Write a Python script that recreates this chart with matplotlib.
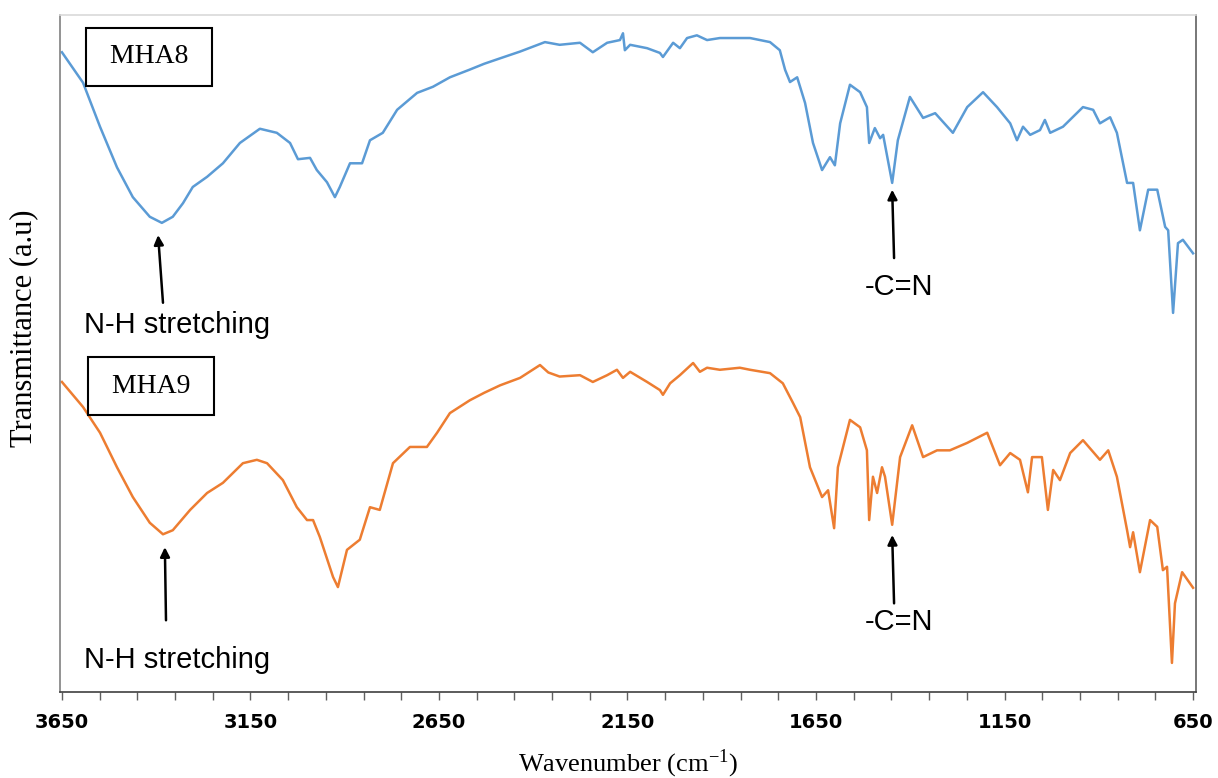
import numpy as np
import matplotlib.pyplot as plt
from matplotlib.ticker import FixedLocator

plt.rcParams['mathtext.fontset'] = 'stix'

# wavenumber (cm-1) and transmittance (a.u.)
wn_mha8 = [3650, 3594, 3549, 3504, 3462, 3417, 3385, 3356, 3329, 3303, 3265, 3223,
           3178, 3125, 3080, 3045, 3024, 2992, 2974, 2947, 2926, 2913, 2886, 2854,
           2833, 2799, 2761, 2708, 2666, 2621, 2570, 2530, 2488, 2435, 2369, 2330,
           2276, 2242, 2204, 2170, 2162, 2157, 2143, 2098, 2064, 2056, 2029, 2011,
           1992, 1966, 1939, 1905, 1852, 1825, 1772, 1746, 1732, 1719, 1700, 1679,
           1658, 1634, 1613, 1600, 1586, 1560, 1533, 1515, 1509, 1494, 1480, 1472,
           1448, 1433, 1401, 1366, 1334, 1287, 1249, 1207, 1170, 1135, 1117, 1101,
           1082, 1056, 1043, 1029, 995, 942, 915, 897, 870, 852, 825, 809,
           791, 769, 745, 724, 716, 703, 690, 677, 650]
t_mha8 = [94.5, 90.0, 83.5, 77.5, 73.1, 70.2, 69.3, 70.2, 72.2, 74.6, 76.1, 78.1,
          81.1, 83.2, 82.6, 81.1, 78.7, 78.9, 77.1, 75.3, 73.1, 74.6, 78.1, 78.1,
          81.5, 82.6, 86.0, 88.5, 89.4, 90.8, 91.9, 92.8, 93.6, 94.6, 96.0, 95.6,
          95.9, 94.5, 95.9, 96.3, 97.3, 94.8, 95.6, 95.1, 94.4, 93.8, 95.9, 95.1,
          96.6, 97.0, 96.3, 96.6, 96.6, 96.6, 96.0, 94.8, 91.9, 90.1, 90.8, 87.0,
          81.1, 77.1, 79.0, 77.8, 84.0, 89.7, 88.6, 86.4, 81.1, 83.3, 81.8, 82.3,
          75.2, 81.5, 87.9, 84.8, 85.5, 82.6, 86.4, 88.6, 86.4, 84.0, 81.5, 83.5,
          82.3, 83.0, 84.5, 82.6, 83.5, 86.4, 86.0, 84.0, 84.9, 82.6, 75.2, 75.2,
          68.2, 74.2, 74.2, 68.7, 68.2, 56.0, 66.3, 66.8, 64.8]

wn_mha9 = [3650, 3594, 3549, 3504, 3462, 3417, 3382, 3356, 3310, 3265, 3223, 3170,
           3133, 3106, 3064, 3027, 3000, 2984, 2966, 2931, 2918, 2894, 2860, 2833,
           2807, 2772, 2727, 2682, 2655, 2621, 2568, 2530, 2488, 2435, 2382, 2360,
           2330, 2276, 2242, 2204, 2178, 2162, 2143, 2098, 2064, 2056, 2037, 2011,
           1976, 1958, 1939, 1905, 1852, 1825, 1772, 1738, 1711, 1692, 1666, 1634,
           1618, 1602, 1592, 1560, 1533, 1515, 1509, 1499, 1488, 1475, 1467, 1448,
           1427, 1395, 1366, 1329, 1295, 1249, 1196, 1162, 1135, 1109, 1088, 1077,
           1051, 1035, 1021, 1003, 976, 942, 897, 875, 852, 825, 817, 809,
           791, 764, 745, 730, 719, 706, 698, 679, 650]
t_mha9 = [45.8, 42.1, 38.3, 33.2, 28.8, 25.0, 23.3, 23.9, 26.9, 29.4, 30.9, 33.8,
          34.3, 33.8, 31.3, 27.3, 25.4, 25.4, 22.9, 17.0, 15.5, 21.0, 22.5, 27.3,
          26.9, 33.8, 36.2, 36.2, 38.3, 41.2, 43.1, 44.2, 45.3, 46.4, 48.3, 47.2,
          46.6, 46.8, 45.8, 46.8, 47.6, 46.4, 47.3, 45.8, 44.6, 43.9, 45.6, 46.8,
          48.6, 47.3, 47.9, 47.6, 47.9, 47.6, 47.1, 45.6, 42.7, 40.6, 33.2, 28.8,
          29.8, 24.2, 33.2, 40.2, 39.1, 35.7, 25.4, 31.8, 29.4, 33.2, 31.8, 24.7,
          34.7, 39.4, 34.7, 35.7, 35.7, 36.8, 38.3, 33.5, 35.3, 34.3, 29.5, 34.7,
          34.7, 26.9, 32.8, 31.3, 35.3, 37.2, 34.3, 35.7, 31.8, 23.9, 21.4, 23.6,
          17.7, 25.4, 24.4, 18.0, 18.5, 4.3, 13.1, 17.7, 15.4]

blue = '#5B9BD5'
orange = '#ED7D31'
serif = 'Liberation Serif'
sans = 'Liberation Sans'

fig = plt.figure(figsize=(12.18, 7.78), dpi=100)
ax = fig.add_axes([0.0493, 0.1105, 0.9327, 0.8702])

ax.plot(wn_mha8, t_mha8, color=blue, lw=1.8)
ax.plot(wn_mha9, t_mha9, color=orange, lw=1.8)

ax.set_xlim(3655, 642)
ax.set_ylim(0, 100)
ax.xaxis.set_major_locator(FixedLocator([3650, 3150, 2650, 2150, 1650, 1150, 650]))
ax.xaxis.set_minor_locator(FixedLocator(np.arange(650, 3651, 100)))
ax.set_yticks([])
ax.tick_params(axis='x', which='both', direction='out', length=6, width=1, color='#606060')
ax.tick_params(axis='x', which='major', pad=9)
for lab in ax.get_xticklabels():
    lab.set_fontfamily('DejaVu Sans')
    lab.set_fontweight('bold')
    lab.set_fontsize(14)

ax.spines['top'].set_color('#d9d9d9')
ax.spines['left'].set_color('#808080')
ax.spines['right'].set_color('#606060')
ax.spines['bottom'].set_color('#404040')
for s in ax.spines.values():
    s.set_linewidth(1.2)

ax.set_xlabel('Wavenumber (cm$^{\\mathregular{-1}}$)', fontfamily=serif, fontsize=19)
ax.xaxis.set_label_coords(0.5, -0.082)
ax.set_ylabel('Transmittance (a.u)', fontfamily=serif, fontsize=22)
ax.yaxis.set_label_coords(-0.019, 0.538)

box = dict(boxstyle='square,pad=0.6', fc='white', ec='black', lw=1.5)
ax.text(3419, 93.8, ' MHA8 ', fontfamily=serif, fontsize=20, ha='center', va='center', bbox=box)
ax.text(3414, 45.2, ' MHA9 ', fontfamily=serif, fontsize=20, ha='center', va='center', bbox=box)

arrow = dict(arrowstyle='-|>', color='black', lw=1.8, mutation_scale=14, shrinkA=0, shrinkB=0)
ax.annotate('', xy=(3395, 67.5), xytext=(3382, 57.5), arrowprops=arrow)
ax.annotate('', xy=(3377, 21.4), xytext=(3374, 10.6), arrowprops=arrow)
ax.annotate('', xy=(1448, 74.2), xytext=(1443, 64.1), arrowprops=arrow)
ax.annotate('', xy=(1448, 23.2), xytext=(1443, 13.1), arrowprops=arrow)

ax.text(3345, 54.2, 'N-H stretching', fontfamily=sans, fontsize=21, ha='center', va='center')
ax.text(3345, 4.7, 'N-H stretching', fontfamily=sans, fontsize=21, ha='center', va='center')
ax.text(1430, 59.8, '-C=N', fontfamily=sans, fontsize=21, ha='center', va='center')
ax.text(1430, 10.3, '-C=N', fontfamily=sans, fontsize=21, ha='center', va='center')

fig.savefig('out.png', dpi=100)
